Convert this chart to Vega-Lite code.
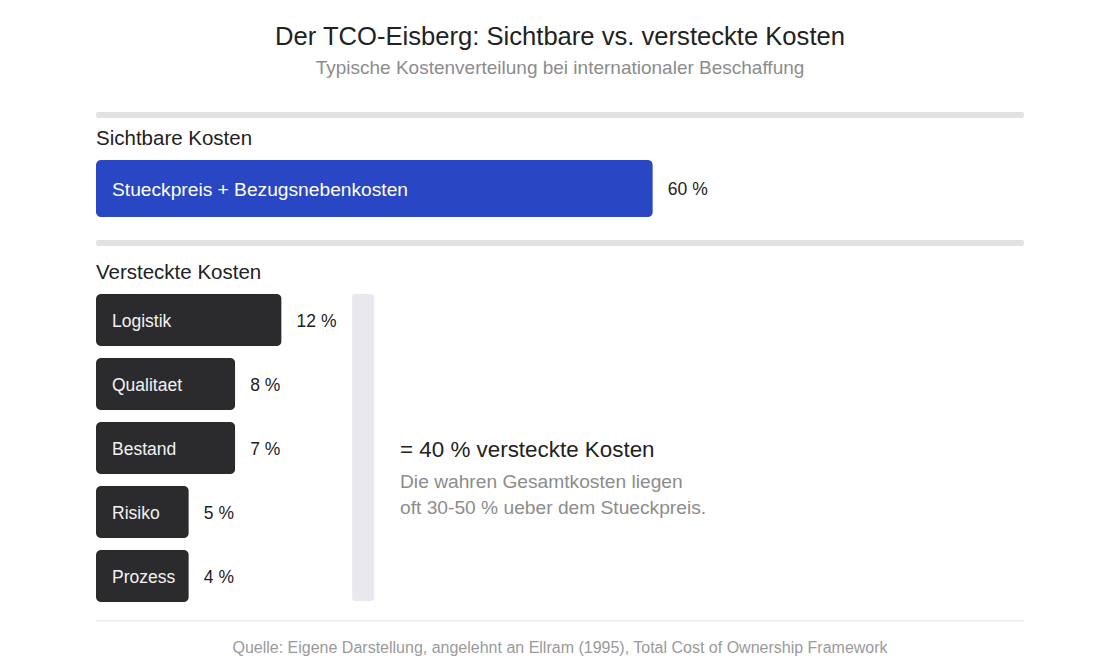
{
  "$schema": "https://vega.github.io/schema/vega-lite/v6.json",
  "width": 928,
  "height": 576,
  "autosize": {"type": "none"},
  "padding": {"left": 96, "right": 96, "top": 96, "bottom": 0},
  "background": "#ffffff",
  "config": {"view": {"stroke": null}, "font": "Liberation Sans"},
  "title": {
    "text": "Der TCO-Eisberg: Sichtbare vs. versteckte Kosten",
    "subtitle": "Typische Kostenverteilung bei internationaler Beschaffung",
    "anchor": "middle",
    "frame": "group",
    "font": "Liberation Sans",
    "fontSize": 25.6,
    "fontWeight": "normal",
    "color": "#222222",
    "subtitleFont": "Liberation Sans",
    "subtitleFontSize": 19,
    "subtitleColor": "#8c8c8c",
    "subtitlePadding": 8,
    "offset": 18
  },
  "datasets": {
    "trenner": [
      {"x0": 0.3, "x1": 99.7, "zeile": 0.297},
      {"x0": 0.3, "x1": 99.7, "zeile": 2.297}
    ],
    "abschnitte": [
      {"titel": "Sichtbare Kosten", "zeile": 0.64},
      {"titel": "Versteckte Kosten", "zeile": 2.73}
    ],
    "sichtbar": [
      {"posten": "Stueckpreis + Bezugsnebenkosten", "anteil": 60, "balken": 60, "zeile": 1.445}
    ],
    "versteckt": [
      {"posten": "Logistik", "anteil": 12, "balken": 20, "zeile": 3.5},
      {"posten": "Qualitaet", "anteil": 8, "balken": 15, "zeile": 4.5},
      {"posten": "Bestand", "anteil": 7, "balken": 15, "zeile": 5.5},
      {"posten": "Risiko", "anteil": 5, "balken": 10, "zeile": 6.5},
      {"posten": "Prozess", "anteil": 4, "balken": 10, "zeile": 7.5}
    ],
    "klammer": [
      {"x0": 27.6, "x1": 29.97, "y0": 3.094, "y1": 7.89}
    ],
    "summe": [
      {"text": "= 40 % versteckte Kosten", "x": 32.76, "zeile": 5.5}
    ],
    "hinweis": [
      {"text": "Die wahren Gesamtkosten liegen", "x": 32.76, "zeile": 6.0},
      {"text": "oft 30-50 % ueber dem Stueckpreis.", "x": 32.76, "zeile": 6.41}
    ],
    "fuss": [
      {"x0": 0, "x1": 100, "zeile": 8.2}
    ],
    "quelle": [
      {"text": "Quelle: Eigene Darstellung, angelehnt an Ellram (1995), Total Cost of Ownership Framework", "x": 50, "zeile": 8.61}
    ]
  },
  "encoding": {},
  "layer": [
    {
      "data": {"name": "trenner"},
      "mark": {"type": "rule", "color": "#e1e1e1", "strokeWidth": 6, "strokeCap": "round"},
      "encoding": {
        "x": {"field": "x0", "type": "quantitative", "scale": {"domain": [0, 100], "nice": false, "zero": false, "padding": 0}, "axis": null},
        "x2": {"field": "x1"},
        "y": {"field": "zeile", "type": "quantitative", "scale": {"domain": [0, 9], "nice": false, "zero": false, "reverse": true, "padding": 0}, "axis": null}
      }
    },
    {
      "data": {"name": "fuss"},
      "mark": {"type": "rule", "color": "#e3e3e3", "strokeWidth": 1},
      "encoding": {
        "x": {"field": "x0", "type": "quantitative"},
        "x2": {"field": "x1"},
        "y": {"field": "zeile", "type": "quantitative"}
      }
    },
    {
      "data": {"name": "abschnitte"},
      "mark": {"type": "text", "align": "left", "baseline": "middle", "fontSize": 20.5, "color": "#222222", "dy": 2},
      "encoding": {
        "x": {"datum": 0, "type": "quantitative"},
        "y": {"field": "zeile", "type": "quantitative"},
        "text": {"field": "titel"}
      }
    },
    {
      "data": {"name": "sichtbar"},
      "mark": {"type": "bar", "orient": "horizontal", "color": "#2946c5", "size": 57, "cornerRadius": 5},
      "encoding": {
        "x": {"field": "balken", "type": "quantitative"},
        "y": {"field": "zeile", "type": "quantitative"}
      }
    },
    {
      "data": {"name": "sichtbar"},
      "mark": {"type": "text", "align": "left", "baseline": "middle", "fontSize": 19.2, "color": "#ffffff", "dx": 16, "dy": 2},
      "encoding": {
        "x": {"datum": 0, "type": "quantitative"},
        "y": {"field": "zeile", "type": "quantitative"},
        "text": {"field": "posten"}
      }
    },
    {
      "data": {"name": "sichtbar"},
      "transform": [{"calculate": "datum.anteil + ' %'", "as": "beschriftung"}],
      "mark": {"type": "text", "align": "left", "baseline": "middle", "fontSize": 17.5, "color": "#222222", "dx": 15, "dy": 2},
      "encoding": {
        "x": {"field": "balken", "type": "quantitative"},
        "y": {"field": "zeile", "type": "quantitative"},
        "text": {"field": "beschriftung"}
      }
    },
    {
      "data": {"name": "versteckt"},
      "mark": {"type": "bar", "orient": "horizontal", "color": "#2b2b2d", "size": 52, "cornerRadius": 5},
      "encoding": {
        "x": {"field": "balken", "type": "quantitative"},
        "y": {"field": "zeile", "type": "quantitative"}
      }
    },
    {
      "data": {"name": "versteckt"},
      "mark": {"type": "text", "align": "left", "baseline": "middle", "fontSize": 17.5, "color": "#f2f2f2", "dx": 16, "dy": 2},
      "encoding": {
        "x": {"datum": 0, "type": "quantitative"},
        "y": {"field": "zeile", "type": "quantitative"},
        "text": {"field": "posten"}
      }
    },
    {
      "data": {"name": "versteckt"},
      "transform": [{"calculate": "datum.anteil + ' %'", "as": "beschriftung"}],
      "mark": {"type": "text", "align": "left", "baseline": "middle", "fontSize": 17.5, "color": "#222222", "dx": 15, "dy": 2},
      "encoding": {
        "x": {"field": "balken", "type": "quantitative"},
        "y": {"field": "zeile", "type": "quantitative"},
        "text": {"field": "beschriftung"}
      }
    },
    {
      "data": {"name": "klammer"},
      "mark": {"type": "rect", "color": "#e8e8ee", "cornerRadius": 3},
      "encoding": {
        "x": {"field": "x0", "type": "quantitative"},
        "x2": {"field": "x1"},
        "y": {"field": "y0", "type": "quantitative"},
        "y2": {"field": "y1"}
      }
    },
    {
      "data": {"name": "summe"},
      "mark": {"type": "text", "align": "left", "baseline": "middle", "fontSize": 22.4, "color": "#222222", "dy": 2},
      "encoding": {
        "x": {"field": "x", "type": "quantitative"},
        "y": {"field": "zeile", "type": "quantitative"},
        "text": {"field": "text"}
      }
    },
    {
      "data": {"name": "hinweis"},
      "mark": {"type": "text", "align": "left", "baseline": "middle", "fontSize": 19.2, "color": "#8c8c8c", "dy": 2},
      "encoding": {
        "x": {"field": "x", "type": "quantitative"},
        "y": {"field": "zeile", "type": "quantitative"},
        "text": {"field": "text"}
      }
    },
    {
      "data": {"name": "quelle"},
      "mark": {"type": "text", "align": "center", "baseline": "middle", "fontSize": 16, "color": "#9a9a9a", "dy": 1},
      "encoding": {
        "x": {"field": "x", "type": "quantitative"},
        "y": {"field": "zeile", "type": "quantitative"},
        "text": {"field": "text"}
      }
    }
  ]
}
